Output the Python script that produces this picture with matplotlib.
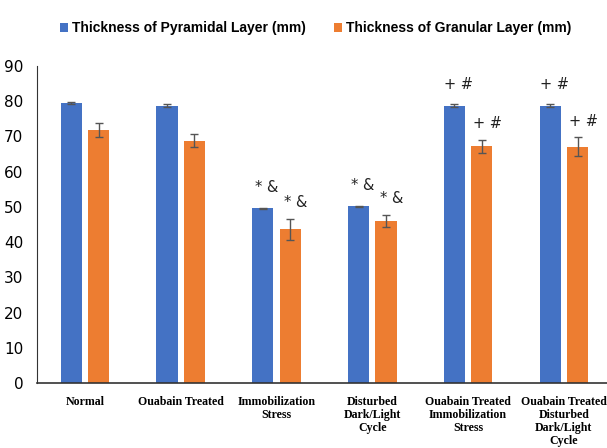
import matplotlib
matplotlib.use("Agg")
import matplotlib.pyplot as plt
import numpy as np

# group labels and measured layer thickness (mean, error)
groups = ["Normal", "Ouabain Treated", "Immobilization\nStress",
          "Disturbed\nDark/Light\nCycle", "Ouabain Treated\nImmobilization\nStress",
          "Ouabain Treated\nDisturbed\nDark/Light\nCycle"]
pyramidal = [79.5, 78.7, 49.6, 50.1, 78.7, 78.7]
pyramidal_err = [0.3, 0.4, 0.2, 0.2, 0.4, 0.5]
granular = [71.7, 68.8, 43.6, 46.1, 67.2, 67.1]
granular_err = [2.0, 1.9, 3.0, 1.7, 1.9, 2.6]
pyr_marks = ["", "", "* &", "* &", "+ #", "+ #"]
gran_marks = ["", "", "* &", "* &", "+ #", "+ #"]
series_names = ["Thickness of Pyramidal Layer (mm)", "Thickness of Granular Layer (mm)"]

blue = "#4472C4"
orange = "#ED7D31"

fig = plt.figure(figsize=(6.07, 4.48), dpi=100)
ax = fig.add_axes([0.061, 0.145, 0.939, 0.708])

x = np.arange(len(groups))
w = 0.22
off = 0.143
err_kw = dict(ecolor="#555555", capsize=3, elinewidth=1, capthick=1)
b1 = ax.bar(x - off, pyramidal, w, color=blue, yerr=pyramidal_err, error_kw=err_kw,
            label=series_names[0])
b2 = ax.bar(x + off, granular, w, color=orange, yerr=granular_err, error_kw=err_kw,
            label=series_names[1])

# significance marks above the bars
for i in range(len(groups)):
    if pyr_marks[i]:
        ax.text(x[i] - off + 0.04, pyramidal[i] + pyramidal_err[i] + 3.5, pyr_marks[i],
                ha="center", va="bottom", fontsize=10.5, color="#222222")
    if gran_marks[i]:
        ax.text(x[i] + off + 0.06, granular[i] + granular_err[i] + 2.5, gran_marks[i],
                ha="center", va="bottom", fontsize=10.5, color="#222222")

ax.set_xlim(-0.5, 5.45)
ax.set_ylim(0, 90)
ax.set_yticks(np.arange(0, 91, 10))
ax.tick_params(axis="y", length=0, pad=10, labelsize=11)
ax.tick_params(axis="x", length=0, pad=9)
ax.set_xticks(x)
ax.set_xticklabels(groups, fontsize=8.6, fontweight="bold",
                   family=["Liberation Serif", "DejaVu Serif"], linespacing=1.12)

for s in ["top", "right"]:
    ax.spines[s].set_visible(False)
ax.spines["left"].set_color("#333333")
ax.spines["bottom"].set_color("#333333")
ax.spines["bottom"].set_linewidth(1.2)

fig.legend(handles=[b1, b2], loc="upper center", bbox_to_anchor=(0.52, 0.98),
           ncol=2, frameon=False, handlelength=0.6, handleheight=0.6,
           handletextpad=0.3, columnspacing=2.0,
           prop={"family": ["Liberation Sans", "DejaVu Sans"],
                 "weight": "bold", "size": 10})

fig.savefig("out.png", dpi=100)
